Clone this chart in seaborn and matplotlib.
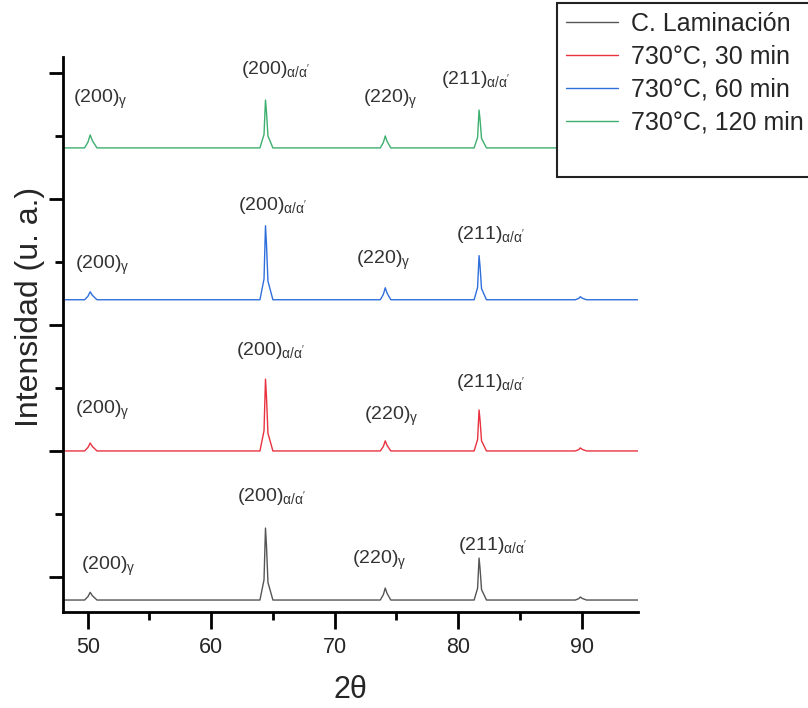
import numpy as np
import pandas as pd
import seaborn as sns
import matplotlib.pyplot as plt
from matplotlib.lines import Line2D
from matplotlib.ticker import MultipleLocator, NullFormatter

two_theta = [48.0,
             49.75, 50.02, 50.2, 50.38, 50.75,
             63.95, 64.28, 64.4, 64.48, 64.6, 65.0,
             73.7, 73.95, 74.1, 74.25, 74.55,
             81.3, 81.58, 81.7, 81.78, 81.9, 82.3,
             89.5, 89.78, 89.9, 90.05, 90.4,
             94.6]

lam = [0,
       0, 2.7, 6.1, 3.4, 0,
       0, 16, 57.1, 43, 14, 0,
       0, 4.3, 9.5, 5.2, 0,
       0, 9.3, 33.3, 25, 8.3, 0,
       0, 1.1, 2.4, 1.3, 0,
       0]
t30 = [0,
       0, 2.8, 6.3, 3.5, 0,
       0, 16, 57, 43, 14, 0,
       0, 3.6, 8, 4.4, 0,
       0, 9, 32.5, 24.4, 8.1, 0,
       0, 1.1, 2.4, 1.3, 0,
       0]
t60 = [0,
       0, 2.8, 6.3, 3.5, 0,
       0, 16.4, 58.7, 44, 14.7, 0,
       0, 4.3, 9.5, 5.2, 0,
       0, 9.8, 35, 26.3, 8.8, 0,
       0, 1.1, 2.4, 1.3, 0,
       0]
t120 = [0,
        0, 4.6, 10.3, 5.7, 0,
        0, 10.6, 38, 28.5, 9.5, 0,
        0, 4.3, 9.5, 5.2, 0,
        0, 8.4, 30, 22.5, 7.5, 0,
        0, 1.1, 2.4, 1.3, 0,
        0]

muestras = ['C. Laminación', '730°C, 30 min', '730°C, 60 min', '730°C, 120 min']
offsets = [-18.3, 100, 220, 340.5]
colores = ['#555555', '#e8323f', '#2f6fdc', '#3daf6f']

# etiquetas de picos
etiquetas = ['(200)$_{γ}$', "(200)$_{α/α'}$", '(220)$_{γ}$', "(211)$_{α/α'}$"]
etq_x = [[49.43, 62.06, 71.38, 79.96],
         [49.0, 62.0, 72.35, 79.8],
         [49.0, 62.15, 71.7, 79.8],
         [48.8, 62.4, 72.3, 78.6]]
etq_y = [[8.7, 63.5, 13.5, 25],
         [132.5, 180, 127.8, 154],
         [247.6, 295, 251.6, 272],
         [379, 403, 378.6, 394.4]]

sns.set_style('ticks')
plt.rcParams['font.family'] = ['Liberation Sans', 'DejaVu Sans']
plt.rcParams['mathtext.fontset'] = 'custom'
plt.rcParams['mathtext.rm'] = 'Liberation Sans'
plt.rcParams['mathtext.it'] = 'Liberation Sans'
plt.rcParams['mathtext.bf'] = 'Liberation Sans:bold'

filas = []
for nombre, serie, off in zip(muestras, [lam, t30, t60, t120], offsets):
    for i, (x, y) in enumerate(zip(two_theta, serie)):
        filas.append({'2theta': x, 'I': y + off, 'muestra': nombre, 'orden': i})
df = pd.DataFrame(filas)

fig = plt.figure(figsize=(8.08, 7.08), dpi=100)
ax = fig.add_axes([0.078, 0.1356, 0.712, 0.784])

sns.lineplot(data=df, x='2theta', y='I', hue='muestra', palette=colores,
             sort=False, estimator=None, units='muestra', linewidth=1.0,
             ax=ax, legend=False)

for k in range(4):
    for txt, x, y in zip(etiquetas, etq_x[k], etq_y[k]):
        ax.text(x, y, txt, fontsize=14, color='#333333', ha='left', va='center')

ax.set_xlim(48.0, 94.6)
ax.set_ylim(-27.8, 412.7)
ax.xaxis.set_major_locator(MultipleLocator(10))
ax.xaxis.set_minor_locator(MultipleLocator(5))
ax.yaxis.set_major_locator(MultipleLocator(100))
ax.yaxis.set_minor_locator(MultipleLocator(50))
ax.yaxis.set_major_formatter(NullFormatter())
ax.tick_params(axis='both', which='major', direction='out', width=2, labelsize=15.5, pad=6, color='black')
ax.tick_params(axis='x', which='major', length=12)
ax.tick_params(axis='y', which='major', length=10)
ax.tick_params(axis='both', which='minor', direction='out', width=2, length=6, color='black')
sns.despine(ax=ax)
for s in ['left', 'bottom']:
    ax.spines[s].set_linewidth(2)
    ax.spines[s].set_color('black')

ax.set_xlabel('2θ', fontsize=22, labelpad=12)
ax.set_ylabel('Intensidad (u. a.)', fontsize=23)
ax.yaxis.set_label_coords(-0.032, 0.55)

handles = [Line2D([], [], color=c, lw=1.0) for c in colores]
handles.append(Line2D([], [], color='none'))
leg = fig.legend(handles, muestras + [''], loc='upper left',
                 bbox_to_anchor=(557 / 808, 1 - 3 / 708), fontsize=18,
                 frameon=True, fancybox=False, edgecolor='#222222',
                 framealpha=1, borderpad=0.35, labelspacing=0.36,
                 handlelength=2.1, handletextpad=0.5, borderaxespad=0)
leg.get_frame().set_linewidth(1.5)

fig.savefig('out.png', dpi=100)
